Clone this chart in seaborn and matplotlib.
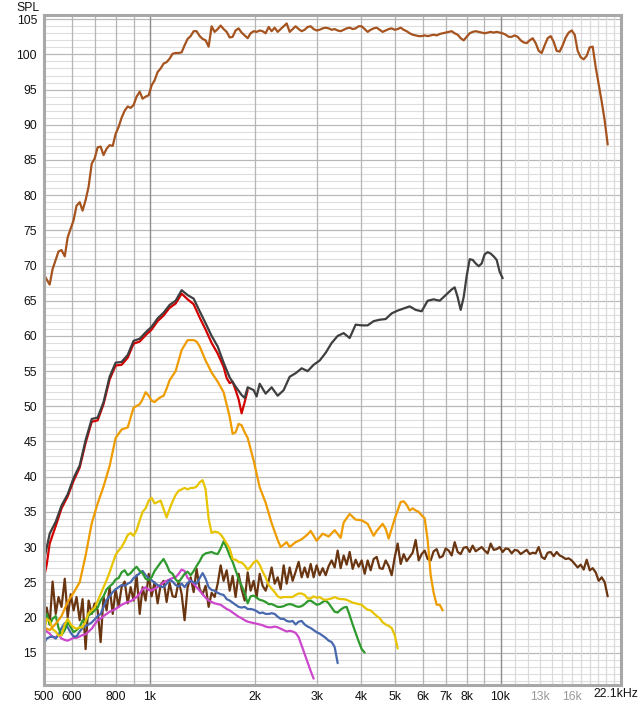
import pandas as pd
import matplotlib
matplotlib.use("Agg")
import matplotlib.pyplot as plt
from matplotlib.ticker import NullLocator
import seaborn as sns

# --- Data (Hz, dB SPL) ---

# measurement grid shared by most traces
grid_hz = [500, 509, 519, 529, 540, 550, 561, 573, 584, 596,
           607, 619, 632, 644, 657, 670, 684, 697, 711, 725,
           739, 754, 769, 785, 800, 816, 832, 849, 866, 883,
           900, 918, 937, 955, 974, 994, 1013, 1033, 1054, 1075,
           1096, 1118, 1140, 1163, 1186, 1210, 1234, 1258, 1283, 1309,
           1335, 1361, 1389, 1416, 1444, 1473, 1502, 1532, 1563, 1594,
           1625, 1658, 1691, 1724, 1758, 1793, 1829, 1866, 1903, 1940,
           1979, 2018, 2059, 2099, 2141, 2184, 2227, 2272, 2317, 2363,
           2410, 2458, 2507, 2556, 2607, 2659, 2712, 2766, 2821, 2877,
           2934, 2992, 3052, 3113, 3175, 3238, 3302, 3368, 3435, 3503,
           3573, 3644, 3716, 3790, 3865, 3942, 4021, 4101, 4182, 4265,
           4350, 4437, 4525, 4615, 4707, 4800, 4896, 4993, 5092, 5194,
           5297, 5402, 5510, 5619, 5731, 5845, 5961, 6080, 6200, 6324,
           6449, 6578, 6709, 6842, 6978, 7117, 7258, 7403, 7550, 7700,
           7853, 8009, 8169, 8331, 8497, 8666, 8838, 9014, 9193, 9376,
           9562, 9752, 9946, 10144, 10346, 10552, 10762, 10975, 11194, 11416,
           11643, 11875, 12110, 12351, 12597, 12847, 13103, 13363, 13629, 13900,
           14176, 14458, 14746, 15039, 15338, 15643, 15954, 16272, 16595, 16925,
           17262, 17605, 17955, 18312, 18676, 19048, 19426, 19813, 20206]

main_db = [68.7, 68.0, 67.3, 69.5, 70.8, 72.0, 72.2, 71.3, 74.0, 75.3,
           76.4, 78.5, 79.0, 77.8, 79.3, 81.2, 84.5, 85.2, 86.8, 86.9,
           85.7, 86.6, 87.1, 87.0, 88.7, 89.7, 91.0, 92.0, 92.6, 92.4,
           92.8, 94.0, 94.7, 93.7, 94.0, 94.2, 95.6, 96.3, 97.5, 98.0,
           98.7, 98.9, 99.4, 100.1, 100.2, 100.2, 100.3, 101.3, 102.2, 102.6,
           103.3, 103.3, 102.6, 102.2, 102.0, 101.1, 104.0, 103.2, 103.6, 104.1,
           103.6, 103.2, 102.4, 102.5, 103.4, 103.7, 103.1, 102.7, 102.3, 103.0,
           103.3, 103.2, 103.4, 103.3, 103.0, 103.9, 103.3, 103.8, 103.2, 103.6,
           104.0, 104.4, 103.2, 103.6, 104.0, 103.6, 103.3, 103.5, 103.9, 104.0,
           103.6, 103.4, 103.5, 103.7, 103.8, 103.7, 103.5, 103.6, 103.4, 103.3,
           103.5, 103.7, 103.8, 103.6, 103.7, 104.0, 104.0, 103.6, 103.2, 103.5,
           103.7, 103.8, 103.5, 103.2, 103.4, 103.6, 103.7, 103.5, 103.6, 103.8,
           103.5, 103.3, 103.0, 102.8, 102.7, 102.6, 102.6, 102.7, 102.6, 102.7,
           102.8, 102.7, 102.9, 103.0, 103.1, 103.2, 103.3, 103.0, 102.8, 102.3,
           102.0, 102.5, 103.0, 103.2, 103.3, 103.2, 103.1, 103.0, 103.1, 103.2,
           103.1, 103.2, 103.1, 103.0, 102.8, 102.5, 102.5, 102.7, 102.5, 102.0,
           101.7, 101.6, 102.0, 102.3, 101.6, 100.5, 100.2, 101.3, 102.3, 102.6,
           101.8, 100.5, 100.4, 101.3, 102.4, 103.1, 103.4, 102.8, 100.5, 99.6,
           99.3, 99.8, 101.0, 101.1, 98.2, 95.7, 93.3, 90.6, 87.2]

noise_db = [19.6, 21.4, 19.0, 25.1, 20.5, 22.9, 21.5, 25.5, 20.0, 23.3,
            21.0, 22.9, 19.6, 22.6, 15.5, 22.4, 20.5, 22.0, 21.0, 16.5,
            22.9, 21.0, 24.3, 20.5, 24.0, 21.5, 24.3, 25.1, 22.0, 24.3,
            22.4, 26.0, 20.5, 24.3, 22.4, 26.2, 23.0, 25.0, 22.0, 24.6,
            25.2, 22.2, 24.9, 23.0, 22.9, 25.2, 23.3, 19.6, 24.3, 25.7,
            23.6, 26.9, 24.0, 23.3, 24.5, 21.5, 23.5, 22.9, 24.8, 27.4,
            25.2, 26.7, 23.8, 25.9, 22.9, 26.2, 24.0, 22.4, 26.4, 23.8,
            25.2, 22.9, 26.2, 24.5, 23.8, 25.2, 27.1, 24.8, 25.7, 24.0,
            27.4, 24.8, 27.1, 25.2, 26.5, 27.9, 25.7, 27.1, 25.7, 27.6,
            25.7, 27.4, 26.0, 27.0, 26.0, 27.3, 28.1, 27.1, 29.5, 27.0,
            28.8, 27.5, 29.3, 26.9, 28.2, 27.2, 28.1, 26.2, 28.1, 26.7,
            28.3, 28.6, 27.0, 26.9, 28.1, 27.3, 26.0, 28.5, 30.5, 27.6,
            29.0, 28.0, 28.6, 29.2, 31.0, 28.1, 29.0, 29.5, 28.3, 28.1,
            29.4, 29.7, 28.5, 28.7, 29.8, 29.5, 28.8, 30.7, 29.3, 29.0,
            29.9, 30.0, 29.3, 30.2, 29.4, 29.7, 30.0, 29.5, 29.1, 30.5,
            29.6, 29.7, 30.0, 29.3, 29.8, 29.7, 29.1, 29.6, 29.5, 29.0,
            29.3, 29.6, 29.0, 29.2, 29.1, 30.0, 28.6, 28.3, 29.2, 29.3,
            28.7, 29.3, 28.8, 28.6, 28.3, 28.4, 28.1, 27.6, 27.1, 27.5,
            26.8, 28.2, 26.7, 27.0, 26.4, 25.2, 25.7, 25.0, 23.0]

yellow_db = [18.1, 19.8, 19.5, 18.3, 18.0, 17.4, 17.5, 19.0, 19.8, 19.0,
             18.6, 18.4, 18.6, 18.6, 19.5, 20.6, 21.0, 21.4, 22.3, 23.3,
             24.3, 25.3, 26.4, 27.7, 28.9, 29.5, 30.0, 30.8, 31.7, 32.0,
             31.6, 32.4, 33.8, 35.0, 35.5, 36.6, 37.0, 36.2, 36.4, 36.6,
             35.4, 34.2, 35.4, 36.5, 37.4, 38.0, 38.2, 38.4, 38.2, 38.4,
             38.4, 38.6, 39.2, 39.5, 38.2, 34.0, 32.0, 32.2, 32.1, 31.8,
             31.2, 30.5, 29.8, 28.3, 28.2, 27.9, 27.8, 27.4, 26.8, 27.2,
             27.8, 28.1, 27.5, 26.5, 25.7, 24.6, 24.1, 23.6, 23.0, 22.8,
             22.9, 22.9, 22.9, 22.9, 23.2, 23.4, 23.4, 23.2, 22.7, 22.7,
             23.0, 22.8, 22.9, 22.6, 22.5, 22.6, 22.7, 22.9, 22.7, 22.6,
             22.6, 22.5, 22.3, 22.1, 22.0, 21.9, 21.8, 21.4, 21.1, 21.0,
             20.6, 20.2, 19.9, 19.3, 19.0, 18.8, 18.5, 17.5, 15.6]

green_db = [19.6, 20.5, 19.0, 19.8, 20.2, 18.5, 17.5, 18.2, 19.3, 18.6,
            17.9, 18.2, 18.6, 19.6, 19.4, 20.3, 20.6, 21.0, 21.4, 22.4,
            23.0, 24.0, 24.4, 24.8, 25.4, 25.6, 26.4, 26.7, 26.0, 26.3,
            26.8, 27.2, 26.6, 26.3, 25.5, 25.3, 25.7, 26.6, 27.2, 27.8,
            28.3, 27.5, 26.5, 26.2, 25.4, 25.0, 25.6, 26.2, 26.5, 26.0,
            26.6, 27.3, 28.0, 28.8, 29.1, 29.2, 29.3, 29.1, 29.0, 29.8,
            30.8, 29.9, 28.8, 27.9, 26.7, 25.5, 24.5, 23.5, 22.0, 23.0,
            23.1, 22.8, 22.5, 22.4, 22.2, 21.9, 21.9, 21.7, 21.5, 21.5,
            21.6, 21.8, 21.9, 21.8, 21.6, 21.5, 21.6, 21.9, 22.3, 22.4,
            22.1, 21.8, 21.9, 22.2, 22.4, 22.0, 21.4, 20.8, 20.7, 21.1,
            21.4, 21.5, 20.3, 19.0, 17.8, 16.6, 15.5, 15.0]

blue_db = [16.3, 17.0, 17.2, 17.3, 17.0, 17.5, 18.5, 19.2, 18.6, 17.8,
           17.3, 17.3, 18.0, 18.5, 18.8, 19.0, 19.3, 19.7, 20.2, 20.5,
           21.5, 22.5, 23.0, 23.6, 24.0, 24.3, 24.6, 24.5, 24.8, 25.0,
           25.6, 25.9, 26.3, 26.6, 26.0, 25.6, 25.3, 24.9, 24.6, 24.4,
           24.3, 24.8, 25.3, 25.1, 24.6, 24.4, 24.8, 24.3, 24.9, 25.2,
           25.0, 24.8, 25.6, 26.3, 25.5, 24.3, 23.9, 23.8, 23.5, 23.3,
           23.2, 22.6, 22.4, 22.1, 21.8, 21.5, 21.4, 21.5, 21.2, 21.2,
           21.1, 20.9, 20.6, 20.7, 20.5, 20.5, 20.6, 20.5, 20.1, 19.8,
           19.8, 19.5, 19.4, 19.5, 19.0, 19.4, 19.5, 19.0, 18.7, 18.5,
           18.2, 17.9, 17.7, 17.4, 17.1, 16.7, 16.5, 15.8, 13.5]

magenta_db = [18.6, 18.0, 17.7, 17.2, 17.2, 17.5, 17.0, 16.8, 16.7, 16.9,
              17.1, 17.1, 17.3, 17.5, 17.6, 18.0, 18.4, 19.0, 19.6, 19.8,
              20.2, 20.5, 20.8, 21.0, 21.2, 21.5, 21.8, 22.0, 22.2, 22.3,
              22.6, 22.9, 23.4, 24.0, 24.3, 23.9, 23.8, 24.1, 24.3, 24.6,
              25.0, 25.2, 25.4, 25.6, 25.7, 26.2, 26.8, 26.6, 25.6, 25.2,
              24.8, 24.3, 23.8, 23.3, 22.8, 22.4, 22.2, 22.0, 21.9, 21.8,
              21.5, 21.2, 21.0, 20.7, 20.4, 20.1, 19.9, 19.6, 19.4, 19.3,
              19.2, 19.1, 19.0, 18.9, 18.7, 18.6, 18.6, 18.7, 18.6, 18.4,
              18.2, 18.0, 18.1, 18.0, 17.8, 17.2, 16.0, 14.8, 13.6, 12.4,
              11.3]

# traces with their own frequency points
grey_hz = [500, 519, 540, 561, 584, 607, 632, 657, 684, 711,
           739, 769, 800, 832, 866, 900, 937, 974, 1013, 1054,
           1096, 1140, 1186, 1234, 1283, 1335, 1389, 1444, 1502, 1563,
           1625, 1691, 1758, 1829, 1866, 1903, 1979, 2018, 2059, 2141,
           2227, 2317, 2410, 2507, 2607, 2712, 2821, 2934, 3052, 3175,
           3302, 3435, 3573, 3716, 3865, 4021, 4182, 4350, 4525, 4707,
           4896, 5092, 5297, 5510, 5731, 5961, 6200, 6449, 6709, 6978,
           7258, 7403, 7550, 7700, 7853, 8009, 8169, 8331, 8497, 8666,
           8838, 9014, 9193, 9376, 9562, 9752, 9946, 10144]
grey_db = [28.1, 31.9, 33.6, 35.9, 37.5, 39.8, 41.6, 45.2, 48.2, 48.4,
           50.6, 54.2, 56.2, 56.3, 57.3, 59.3, 59.6, 60.5, 61.3, 62.5,
           63.3, 64.4, 65.0, 66.5, 65.8, 65.3, 63.5, 61.8, 60.0, 58.5,
           56.2, 54.1, 52.8, 51.6, 51.2, 52.7, 52.3, 51.4, 53.2, 51.8,
           52.7, 51.5, 52.3, 54.2, 54.7, 55.4, 55.0, 55.9, 56.5, 57.6,
           59.0, 60.0, 60.4, 59.7, 61.6, 61.5, 61.5, 62.1, 62.3, 62.4,
           63.2, 63.6, 63.9, 64.2, 63.7, 63.5, 65.0, 65.2, 65.0, 65.8,
           66.6, 66.9, 65.5, 63.7, 65.5, 68.5, 70.9, 70.8, 70.3, 69.9,
           70.3, 71.6, 71.9, 71.7, 71.3, 70.8, 69.1, 68.2]

red_hz = [500, 509, 519, 540, 561, 584, 607, 632, 657, 684,
          711, 739, 769, 800, 832, 866, 900, 937, 974, 1013,
          1054, 1096, 1140, 1186, 1234, 1283, 1335, 1389, 1444, 1502,
          1563, 1625, 1658, 1691, 1724, 1758, 1793, 1829, 1866, 1903]
red_db = [25.7, 27.5, 30.5, 33.0, 35.5, 37.2, 39.4, 41.3, 44.8, 47.8,
          48.0, 50.3, 53.8, 55.8, 55.9, 56.9, 58.9, 59.2, 60.1, 60.9,
          62.1, 62.9, 64.0, 64.6, 66.0, 65.2, 64.5, 62.6, 60.9, 59.0,
          57.5, 55.6, 54.0, 53.3, 53.5, 52.3, 51.0, 49.0, 50.6, 52.3]

orange_hz = [500, 519, 540, 561, 584, 607, 632, 657, 684, 711,
             739, 769, 800, 832, 866, 900, 937, 955, 974, 994,
             1013, 1033, 1054, 1075, 1096, 1118, 1140, 1186, 1234, 1283,
             1335, 1361, 1389, 1444, 1502, 1563, 1625, 1691, 1724, 1758,
             1793, 1829, 1866, 1903, 1979, 2059, 2141, 2227, 2317, 2363,
             2458, 2507, 2607, 2712, 2821, 2877, 2992, 3113, 3238, 3368,
             3503, 3573, 3716, 3865, 4021, 4182, 4350, 4437, 4615, 4707,
             4800, 4993, 5194, 5297, 5402, 5510, 5619, 5731, 5845, 5961,
             6080, 6200, 6324, 6449, 6578, 6709, 6842]
orange_db = [18.6, 18.2, 19.1, 20.2, 22.2, 23.5, 25.0, 28.8, 33.4, 36.2,
             38.6, 41.5, 45.5, 46.7, 47.0, 49.8, 50.3, 51.0, 52.0, 51.5,
             50.8, 50.6, 51.0, 51.3, 51.5, 52.5, 53.7, 55.0, 58.0, 59.4,
             59.4, 59.2, 58.5, 56.5, 54.8, 53.5, 52.0, 48.5, 46.1, 46.3,
             47.5, 47.3, 46.3, 45.5, 42.3, 38.5, 36.3, 33.4, 31.0, 30.0,
             30.7, 30.0, 30.7, 31.1, 31.8, 32.3, 30.9, 31.9, 31.5, 32.4,
             31.3, 33.5, 34.7, 33.9, 33.8, 33.3, 31.6, 32.3, 33.3, 32.6,
             31.2, 34.0, 36.4, 36.5, 36.0, 35.2, 35.5, 35.2, 35.0, 34.5,
             34.1, 31.0, 26.0, 23.5, 21.8, 21.8, 21.0]

# drawing order (first = bottom)
traces = [
    ("noise", grid_hz, noise_db, "#6a3511"),
    ("magenta", grid_hz, magenta_db, "#cc47cc"),
    ("blue", grid_hz, blue_db, "#4768ae"),
    ("green", grid_hz, green_db, "#2e9a2e"),
    ("yellow", grid_hz, yellow_db, "#e8c400"),
    ("orange", orange_hz, orange_db, "#ee9c00"),
    ("red", red_hz, red_db, "#d40000"),
    ("grey", grey_hz, grey_db, "#3f3f3f"),
    ("main", grid_hz, main_db, "#a5531f"),
]

frames = []
for name, hz, db, _ in traces:
    frames.append(pd.DataFrame({"freq": hz[:len(db)], "spl": db, "trace": name}))
df = pd.concat(frames, ignore_index=True)
palette = {name: col for name, _, _, col in traces}
order = [name for name, _, _, _ in traces]

# x tick labels
xtick_hz = [500, 600, 800, 1000, 2000, 3000, 4000, 5000, 6000, 7000, 8000, 10000, 13000, 16000]
xtick_text = ["500", "600", "800", "1k", "2k", "3k", "4k", "5k", "6k", "7k", "8k", "10k", "13k", "16k"]

sns.set_style("white")
plt.rcParams["font.family"] = ["Liberation Sans", "DejaVu Sans"]

fig = plt.figure(figsize=(6.4, 7.07), dpi=100)
ax = fig.add_axes([44 / 640, 1 - 685 / 707, 577 / 640, 670 / 707])
ax.set_xscale("log")

# grid
for v in range(11, 106):
    if v % 5 == 0:
        ax.axhline(v, color="#b9b9b9", lw=0.9, zorder=0)
    else:
        ax.axhline(v, color="#dedede", lw=0.8, zorder=0)
for f in [600, 700, 800, 900, 2000, 3000, 4000, 5000, 6000, 7000, 8000, 9000]:
    ax.axvline(f, color="#b5b5b5", lw=0.9, zorder=0)
for f in [1000, 10000]:
    ax.axvline(f, color="#8c8c8c", lw=1.0, zorder=0)
for f in range(11000, 23000, 1000):
    ax.axvline(f, color="#dadada", lw=0.9, zorder=0)

sns.lineplot(data=df, x="freq", y="spl", hue="trace", hue_order=order,
             palette=palette, estimator=None, linewidth=1.6, legend=False, ax=ax)

ax.set_xlim(500, 22050)
ax.set_ylim(10.4, 105.6)
ax.set_xlabel("")
ax.set_ylabel("")
ax.set_yticks(list(range(15, 106, 5)))
ax.set_xticks(xtick_hz, labels=xtick_text)
ax.xaxis.set_minor_locator(NullLocator())
ax.tick_params(axis="both", length=0, labelsize=8.8, colors="#111111")
ax.tick_params(axis="y", pad=5)
ax.tick_params(axis="x", pad=4)
for lab in ax.get_xticklabels():
    if lab.get_text() in ("13k", "16k"):
        lab.set_color("#9a9a9a")

for s in ax.spines.values():
    s.set_color("#a8a8a8")
    s.set_linewidth(2.2)

fig.text(16 / 640, 1 - 8 / 707, "SPL", fontsize=8.8, va="center", ha="left", color="#111111")
fig.text(638 / 640, 1 - 694 / 707, "22.1kHz", fontsize=8.8, va="center", ha="right", color="#111111")

fig.savefig("out.png", dpi=100, facecolor="white")
